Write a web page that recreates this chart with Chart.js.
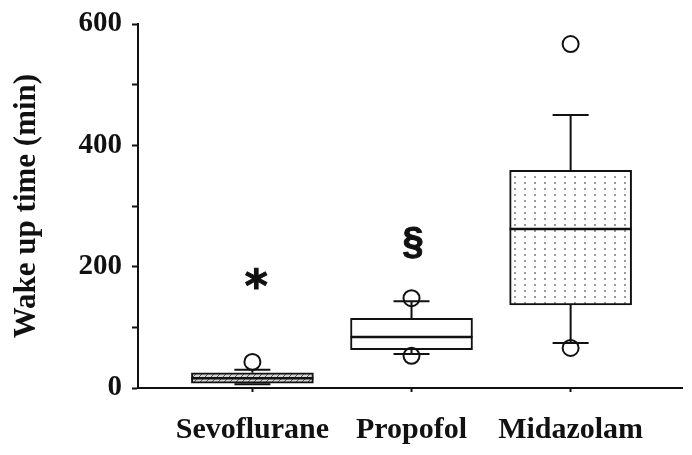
<!DOCTYPE html>
<html>
<head>
<meta charset="utf-8">
<script src="https://cdn.jsdelivr.net/npm/chart.js@4.4.1/dist/chart.umd.min.js"></script>
<style>
  html, body { margin: 0; padding: 0; background: #fff; }
  #wrap { width: 692px; height: 455px; }
</style>
</head>
<body>
<div id="wrap"><canvas id="wakeChart" width="692" height="455"></canvas></div>
<script>
// box plot summary per anaesthetic (minutes)
const categories = ["Sevoflurane", "Propofol", "Midazolam"];
const lowerWhisker = [6, 56, 74];
const q1 = [8, 63, 137];
const median = [16, 84, 262];
const q3 = [25, 115, 359];
const upperWhisker = [30, 143, 450];
const outliers = [[43], [53, 148], [66, 567]];
const yTicks = [0, 200, 400, 600];
// significance marks above the groups
const markText = ["*", "\u00A7", ""];
const markX = [1.025, 2.01, 3];
const markValue = [181, 239, null];

// fills: hatched grey, plain white, dotted
function hatchFill() {
  const c = document.createElement("canvas");
  c.width = 6; c.height = 6;
  const g = c.getContext("2d");
  g.fillStyle = "#d4d4d4";
  g.fillRect(0, 0, 6, 6);
  g.strokeStyle = "#5a5a5a";
  g.lineWidth = 1;
  g.beginPath();
  g.moveTo(0, 6); g.lineTo(6, 0);
  g.moveTo(-1, 1); g.lineTo(1, -1);
  g.moveTo(5, 7); g.lineTo(7, 5);
  g.stroke();
  return g.createPattern(c, "repeat");
}

function dotFill() {
  const c = document.createElement("canvas");
  c.width = 10; c.height = 6;
  const g = c.getContext("2d");
  g.fillStyle = "#ffffff";
  g.fillRect(0, 0, 10, 6);
  g.fillStyle = "#7a7a7a";
  g.beginPath();
  g.arc(5, 3, 1, 0, Math.PI * 2);
  g.fill();
  return g.createPattern(c, "repeat");
}

const boxFills = [hatchFill(), "#ffffff", dotFill()];

const boxData = categories.map((c, i) => ({ x: i + 1, y: [q1[i], q3[i]] }));
const outlierData = [];
outliers.forEach((list, i) => list.forEach(v => outlierData.push({ x: i + 1, y: v })));

// whiskers, caps, medians and the significance marks
const boxExtras = {
  id: "boxExtras",
  afterDatasetsDraw(chart) {
    const ctx = chart.ctx;
    const xs = chart.scales.x;
    const ys = chart.scales.y;
    const half = 61;
    const cap = 18;
    ctx.save();
    ctx.strokeStyle = "#111";
    categories.forEach((c, i) => {
      const x = xs.getPixelForValue(i + 1);
      ctx.lineWidth = 2;
      ctx.beginPath();
      ctx.moveTo(x, ys.getPixelForValue(q3[i]));
      ctx.lineTo(x, ys.getPixelForValue(upperWhisker[i]));
      ctx.moveTo(x, ys.getPixelForValue(q1[i]));
      ctx.lineTo(x, ys.getPixelForValue(lowerWhisker[i]));
      ctx.moveTo(x - cap, ys.getPixelForValue(upperWhisker[i]));
      ctx.lineTo(x + cap, ys.getPixelForValue(upperWhisker[i]));
      ctx.moveTo(x - cap, ys.getPixelForValue(lowerWhisker[i]));
      ctx.lineTo(x + cap, ys.getPixelForValue(lowerWhisker[i]));
      ctx.stroke();
      ctx.lineWidth = 2.5;
      ctx.beginPath();
      ctx.moveTo(x - half, ys.getPixelForValue(median[i]));
      ctx.lineTo(x + half, ys.getPixelForValue(median[i]));
      ctx.stroke();

      if (markText[i]) {
        const mx = xs.getPixelForValue(markX[i]);
        ctx.fillStyle = "#111";
        ctx.font = i === 0 ? "bold 44px 'DejaVu Sans'" : "bold 38px 'Liberation Sans'";
        ctx.textAlign = "center";
        ctx.textBaseline = "alphabetic";
        const m = ctx.measureText(markText[i]);
        const yc = ys.getPixelForValue(markValue[i]);
        const base = yc + (m.actualBoundingBoxAscent - m.actualBoundingBoxDescent) / 2;
        ctx.fillText(markText[i], mx, base);
        // a little extra weight on the glyph
        ctx.lineWidth = 1;
        ctx.strokeStyle = "#111";
        ctx.strokeText(markText[i], mx, base);
      }
    });
    ctx.restore();
  }
};

const chart = new Chart(document.getElementById("wakeChart").getContext("2d"), {
  type: "bar",
  data: {
    datasets: [
      {
        label: "box",
        data: boxData,
        backgroundColor: boxFills,
        borderColor: "#111",
        borderWidth: 2,
        borderSkipped: false,
        barThickness: 122,
        order: 2
      },
      {
        type: "scatter",
        label: "outliers",
        data: outlierData,
        pointStyle: "circle",
        pointRadius: 8,
        pointBorderWidth: 2,
        pointBorderColor: "#111",
        pointBackgroundColor: "rgba(0,0,0,0)",
        order: 1
      }
    ]
  },
  options: {
    responsive: false,
    animation: false,
    layout: { padding: { left: 0, right: 0, top: 24, bottom: 0 } },
    plugins: {
      legend: { display: false },
      tooltip: { enabled: false }
    },
    scales: {
      x: {
        type: "linear",
        min: 0.281,
        max: 3.7,
        offset: false,
        afterBuildTicks(scale) {
          scale.ticks = categories.map((c, i) => ({ value: i + 1 }));
        },
        afterFit(scale) { scale.height = 67; },
        ticks: {
          callback: v => categories[v - 1],
          color: "#111",
          font: { family: "'Liberation Serif'", size: 30, weight: "bold" },
          padding: 20,
          maxRotation: 0,
          autoSkip: false
        },
        grid: { offset: false, drawOnChartArea: false, tickLength: 4, tickWidth: 2, color: "#111" },
        border: { color: "#111", width: 2 }
      },
      y: {
        min: 0,
        max: 600,
        afterBuildTicks(scale) {
          scale.ticks = [0, 100, 200, 300, 400, 500, 600].map(v => ({ value: v }));
        },
        afterFit(scale) { scale.width = 138; },
        ticks: {
          callback: v => (yTicks.includes(v) ? String(v) : ""),
          color: "#111",
          font: { family: "'Liberation Serif'", size: 29, weight: "bold", lineHeight: 0.8 },
          padding: 10
        },
        grid: { drawOnChartArea: false, tickLength: 6, tickWidth: 2, color: "#111" },
        border: { color: "#111", width: 2 },
        title: {
          display: true,
          text: "Wake up time (min)",
          color: "#111",
          font: { family: "'Liberation Serif'", size: 31, weight: "bold" },
          padding: { top: 8, bottom: 0 }
        }
      }
    }
  },
  plugins: [boxExtras]
});
</script>
</body>
</html>
